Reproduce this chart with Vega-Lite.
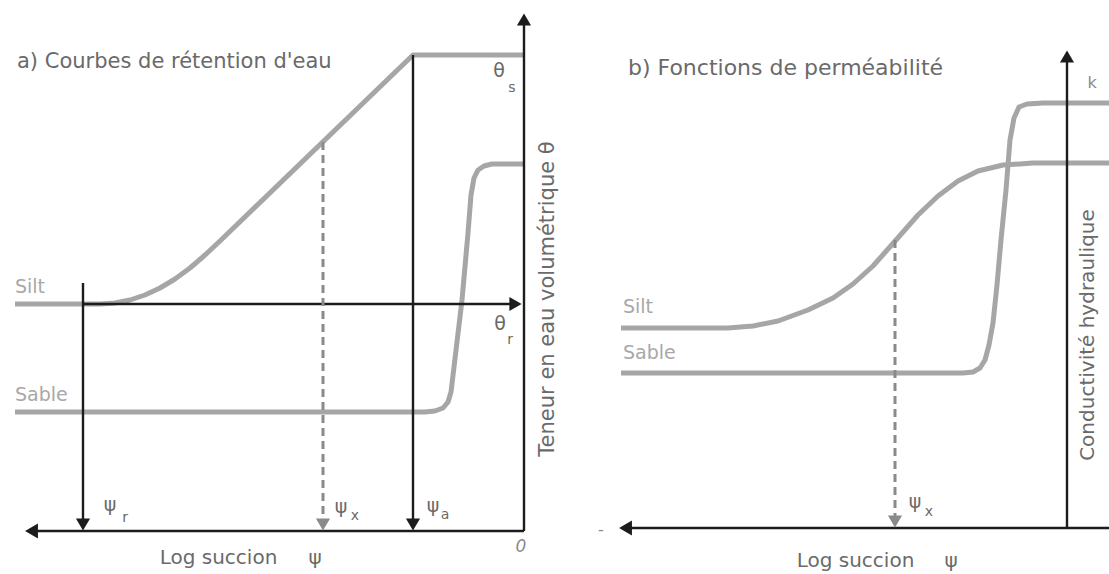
{
  "$schema": "https://vega.github.io/schema/vega-lite/v6.json",
  "padding": 0,
  "spacing": 20,
  "background": "white",
  "config": {"view": {"stroke": null}, "text": {"font": "DejaVu Sans", "color": "#6e6e6e"}},
  "datasets": {
    "aCurves": [
      {"soil": "Silt", "i": 0, "x": 10.18, "y": 4.54},
      {"soil": "Silt", "i": 1, "x": 8.48, "y": 4.54},
      {"soil": "Silt", "i": 2, "x": 8.18, "y": 4.56},
      {"soil": "Silt", "i": 3, "x": 7.88, "y": 4.62},
      {"soil": "Silt", "i": 4, "x": 7.58, "y": 4.72},
      {"soil": "Silt", "i": 5, "x": 7.28, "y": 4.86},
      {"soil": "Silt", "i": 6, "x": 6.98, "y": 5.04},
      {"soil": "Silt", "i": 7, "x": 6.68, "y": 5.26},
      {"soil": "Silt", "i": 8, "x": 6.38, "y": 5.52},
      {"soil": "Silt", "i": 9, "x": 6.08, "y": 5.8},
      {"soil": "Silt", "i": 10, "x": 2.22, "y": 9.52},
      {"soil": "Silt", "i": 11, "x": 0, "y": 9.52},
      {"soil": "Sable", "i": 0, "x": 10.18, "y": 2.38},
      {"soil": "Sable", "i": 1, "x": 1.98, "y": 2.38},
      {"soil": "Sable", "i": 2, "x": 1.78, "y": 2.4},
      {"soil": "Sable", "i": 3, "x": 1.62, "y": 2.46},
      {"soil": "Sable", "i": 4, "x": 1.52, "y": 2.58},
      {"soil": "Sable", "i": 5, "x": 1.46, "y": 2.78},
      {"soil": "Sable", "i": 6, "x": 1.4, "y": 3.28},
      {"soil": "Sable", "i": 7, "x": 1.24, "y": 4.62},
      {"soil": "Sable", "i": 8, "x": 1.12, "y": 5.96},
      {"soil": "Sable", "i": 9, "x": 1.06, "y": 6.72},
      {"soil": "Sable", "i": 10, "x": 1.0, "y": 7.06},
      {"soil": "Sable", "i": 11, "x": 0.92, "y": 7.22},
      {"soil": "Sable", "i": 12, "x": 0.8, "y": 7.3},
      {"soil": "Sable", "i": 13, "x": 0.64, "y": 7.34},
      {"soil": "Sable", "i": 14, "x": 0, "y": 7.34}
    ],
    "aRules": [
      {"x": 0, "y": 0, "x2": 9.85, "y2": 0},
      {"x": 0, "y": 0, "x2": 0, "y2": 10.2},
      {"x": 8.82, "y": 4.54, "x2": 0.17, "y2": 4.54},
      {"x": 8.82, "y": 4.96, "x2": 8.82, "y2": 0.13},
      {"x": 2.22, "y": 9.52, "x2": 2.22, "y2": 0.13}
    ],
    "aDashed": [{"x": 4.02, "y": 7.78, "x2": 4.02, "y2": 0.13}],
    "aDown": [{"x": 8.82, "y": 0.13}, {"x": 2.22, "y": 0.13}],
    "aDownGray": [{"x": 4.02, "y": 0.13}],
    "aLeft": [{"x": 9.85, "y": 0}],
    "aUp": [{"x": 0, "y": 10.23}],
    "aRight": [{"x": 0.17, "y": 4.54}],
    "aTitle": [{"t": "a) Courbes de rétention d'eau", "x": 10.14, "y": 9.38}],
    "aLight": [
      {"t": "Silt", "x": 10.18, "y": 4.88},
      {"t": "Sable", "x": 10.18, "y": 2.72}
    ],
    "aAxisLabel": [
      {"t": "Log succion", "x": 6.11, "y": -0.54},
      {"t": "ψ", "x": 4.18, "y": -0.54}
    ],
    "aZero": [{"t": "0", "x": 0.06, "y": -0.32}],
    "aGreek": [
      {"t": "θ", "x": 0.5, "y": 9.2},
      {"t": "θ", "x": 0.48, "y": 4.14},
      {"t": "ψ", "x": 8.28, "y": 0.52},
      {"t": "ψ", "x": 3.66, "y": 0.48},
      {"t": "ψ", "x": 1.82, "y": 0.5}
    ],
    "aSub": [
      {"t": "s", "x": 0.24, "y": 8.86},
      {"t": "r", "x": 0.28, "y": 3.82},
      {"t": "r", "x": 7.98, "y": 0.26},
      {"t": "x", "x": 3.38, "y": 0.3},
      {"t": "a", "x": 1.58, "y": 0.32}
    ],
    "aVert": [{"t": "Teneur en eau volumétrique θ", "x": -0.48, "y": 4.64}],
    "bCurves": [
      {"soil": "Silt", "i": 0, "x": 8.92, "y": 4.0},
      {"soil": "Silt", "i": 1, "x": 6.78, "y": 4.0},
      {"soil": "Silt", "i": 2, "x": 6.28, "y": 4.04},
      {"soil": "Silt", "i": 3, "x": 5.78, "y": 4.14},
      {"soil": "Silt", "i": 4, "x": 5.18, "y": 4.36},
      {"soil": "Silt", "i": 5, "x": 4.68, "y": 4.6},
      {"soil": "Silt", "i": 6, "x": 4.28, "y": 4.88},
      {"soil": "Silt", "i": 7, "x": 3.88, "y": 5.24},
      {"soil": "Silt", "i": 8, "x": 3.42, "y": 5.76},
      {"soil": "Silt", "i": 9, "x": 2.98, "y": 6.26},
      {"soil": "Silt", "i": 10, "x": 2.58, "y": 6.64},
      {"soil": "Silt", "i": 11, "x": 2.18, "y": 6.94},
      {"soil": "Silt", "i": 12, "x": 1.78, "y": 7.14},
      {"soil": "Silt", "i": 13, "x": 1.28, "y": 7.26},
      {"soil": "Silt", "i": 14, "x": 0.68, "y": 7.3},
      {"soil": "Silt", "i": 15, "x": -0.9, "y": 7.3},
      {"soil": "Sable", "i": 0, "x": 8.92, "y": 3.1},
      {"soil": "Sable", "i": 1, "x": 2.08, "y": 3.1},
      {"soil": "Sable", "i": 2, "x": 1.88, "y": 3.12},
      {"soil": "Sable", "i": 3, "x": 1.74, "y": 3.2},
      {"soil": "Sable", "i": 4, "x": 1.64, "y": 3.36},
      {"soil": "Sable", "i": 5, "x": 1.56, "y": 3.66},
      {"soil": "Sable", "i": 6, "x": 1.48, "y": 4.1},
      {"soil": "Sable", "i": 7, "x": 1.4, "y": 4.86},
      {"soil": "Sable", "i": 8, "x": 1.32, "y": 5.76},
      {"soil": "Sable", "i": 9, "x": 1.22, "y": 6.76},
      {"soil": "Sable", "i": 10, "x": 1.14, "y": 7.76},
      {"soil": "Sable", "i": 11, "x": 1.06, "y": 8.2},
      {"soil": "Sable", "i": 12, "x": 0.96, "y": 8.42},
      {"soil": "Sable", "i": 13, "x": 0.8, "y": 8.48},
      {"soil": "Sable", "i": 14, "x": 0.48, "y": 8.5},
      {"soil": "Sable", "i": 15, "x": -0.9, "y": 8.5}
    ],
    "bRules": [
      {"x": -0.9, "y": 0, "x2": 8.83, "y2": 0},
      {"x": 0, "y": 0, "x2": 0, "y2": 9.43}
    ],
    "bDashed": [{"x": 3.44, "y": 5.76, "x2": 3.44, "y2": 0.13}],
    "bDownGray": [{"x": 3.44, "y": 0.13}],
    "bLeft": [{"x": 8.83, "y": 0}],
    "bUp": [{"x": 0, "y": 9.43}],
    "bTitle": [{"t": "b) Fonctions de perméabilité", "x": 8.78, "y": 9.2}],
    "bK": [{"t": "k", "x": -0.5, "y": 8.9}],
    "bLight": [
      {"t": "Silt", "x": 8.88, "y": 4.42},
      {"t": "Sable", "x": 8.88, "y": 3.5}
    ],
    "bDash": [{"t": "-", "x": 9.32, "y": -0.04}],
    "bAxisLabel": [
      {"t": "Log succion", "x": 4.23, "y": -0.66},
      {"t": "ψ", "x": 2.32, "y": -0.66}
    ],
    "bGreek": [{"t": "ψ", "x": 3.04, "y": 0.52}],
    "bSub": [{"t": "x", "x": 2.76, "y": 0.32}],
    "bVert": [{"t": "Conductivité hydraulique", "x": -0.42, "y": 3.86}]
  },
  "hconcat": [
    {
      "width": 555,
      "height": 574,
      "encoding": {
        "x": {"field": "x", "type": "quantitative", "scale": {"domain": [-0.62, 10.48], "reverse": true, "nice": false, "zero": false}, "axis": null},
        "y": {"field": "y", "type": "quantitative", "scale": {"domain": [-0.86, 10.62], "nice": false, "zero": false}, "axis": null}
      },
      "layer": [
        {"data": {"name": "aCurves"}, "mark": {"type": "line", "color": "#a6a6a6", "strokeWidth": 5, "strokeCap": "butt", "strokeJoin": "round"},
         "encoding": {"detail": {"field": "soil"}, "order": {"field": "i", "type": "quantitative"}}},
        {"data": {"name": "aRules"}, "mark": {"type": "rule", "color": "#1c1c1c", "strokeWidth": 2.4},
         "encoding": {"x2": {"field": "x2"}, "y2": {"field": "y2"}}},
        {"data": {"name": "aDashed"}, "mark": {"type": "rule", "color": "#8a8a8a", "strokeWidth": 3, "strokeDash": [8, 5]},
         "encoding": {"x2": {"field": "x2"}, "y2": {"field": "y2"}}},
        {"data": {"name": "aDown"}, "mark": {"type": "point", "shape": "triangle-down", "filled": true, "color": "#1c1c1c", "size": 200, "opacity": 1}},
        {"data": {"name": "aDownGray"}, "mark": {"type": "point", "shape": "triangle-down", "filled": true, "color": "#8a8a8a", "size": 200, "opacity": 1}},
        {"data": {"name": "aLeft"}, "mark": {"type": "point", "shape": "triangle-left", "filled": true, "color": "#1c1c1c", "size": 220, "opacity": 1}},
        {"data": {"name": "aUp"}, "mark": {"type": "point", "shape": "triangle-up", "filled": true, "color": "#1c1c1c", "size": 200, "opacity": 1}},
        {"data": {"name": "aRight"}, "mark": {"type": "point", "shape": "triangle-right", "filled": true, "color": "#1c1c1c", "size": 200, "opacity": 1}},
        {"data": {"name": "aTitle"}, "mark": {"type": "text", "align": "left", "baseline": "middle", "fontSize": 21, "color": "#6a6a6a"}, "encoding": {"text": {"field": "t"}}},
        {"data": {"name": "aLight"}, "mark": {"type": "text", "align": "left", "baseline": "middle", "fontSize": 19, "color": "#a8a8a8"}, "encoding": {"text": {"field": "t"}}},
        {"data": {"name": "aAxisLabel"}, "mark": {"type": "text", "align": "center", "baseline": "middle", "fontSize": 20, "color": "#6a6a6a"}, "encoding": {"text": {"field": "t"}}},
        {"data": {"name": "aZero"}, "mark": {"type": "text", "align": "center", "baseline": "middle", "fontSize": 17, "fontStyle": "italic", "color": "#8a8a8a"}, "encoding": {"text": {"field": "t"}}},
        {"data": {"name": "aGreek"}, "mark": {"type": "text", "align": "center", "baseline": "middle", "fontSize": 19, "color": "#6a6a6a"}, "encoding": {"text": {"field": "t"}}},
        {"data": {"name": "aSub"}, "mark": {"type": "text", "align": "center", "baseline": "middle", "fontSize": 14, "color": "#6a6a6a"}, "encoding": {"text": {"field": "t"}}},
        {"data": {"name": "aVert"}, "mark": {"type": "text", "align": "center", "baseline": "middle", "angle": 270, "fontSize": 21, "color": "#6a6a6a"}, "encoding": {"text": {"field": "t"}}}
      ]
    },
    {
      "width": 534,
      "height": 574,
      "encoding": {
        "x": {"field": "x", "type": "quantitative", "scale": {"domain": [-0.9, 9.78], "reverse": true, "nice": false, "zero": false}, "axis": null},
        "y": {"field": "y", "type": "quantitative", "scale": {"domain": [-0.92, 10.56], "nice": false, "zero": false}, "axis": null}
      },
      "layer": [
        {"data": {"name": "bCurves"}, "mark": {"type": "line", "color": "#a6a6a6", "strokeWidth": 5, "strokeCap": "butt", "strokeJoin": "round"},
         "encoding": {"detail": {"field": "soil"}, "order": {"field": "i", "type": "quantitative"}}},
        {"data": {"name": "bRules"}, "mark": {"type": "rule", "color": "#1c1c1c", "strokeWidth": 2.4},
         "encoding": {"x2": {"field": "x2"}, "y2": {"field": "y2"}}},
        {"data": {"name": "bDashed"}, "mark": {"type": "rule", "color": "#8a8a8a", "strokeWidth": 3, "strokeDash": [8, 5]},
         "encoding": {"x2": {"field": "x2"}, "y2": {"field": "y2"}}},
        {"data": {"name": "bDownGray"}, "mark": {"type": "point", "shape": "triangle-down", "filled": true, "color": "#8a8a8a", "size": 200, "opacity": 1}},
        {"data": {"name": "bLeft"}, "mark": {"type": "point", "shape": "triangle-left", "filled": true, "color": "#1c1c1c", "size": 220, "opacity": 1}},
        {"data": {"name": "bUp"}, "mark": {"type": "point", "shape": "triangle-up", "filled": true, "color": "#1c1c1c", "size": 200, "opacity": 1}},
        {"data": {"name": "bTitle"}, "mark": {"type": "text", "align": "left", "baseline": "middle", "fontSize": 22, "color": "#6a6a6a"}, "encoding": {"text": {"field": "t"}}},
        {"data": {"name": "bK"}, "mark": {"type": "text", "align": "center", "baseline": "middle", "fontSize": 16, "color": "#8a8a8a"}, "encoding": {"text": {"field": "t"}}},
        {"data": {"name": "bLight"}, "mark": {"type": "text", "align": "left", "baseline": "middle", "fontSize": 19, "color": "#a8a8a8"}, "encoding": {"text": {"field": "t"}}},
        {"data": {"name": "bDash"}, "mark": {"type": "text", "align": "center", "baseline": "middle", "fontSize": 16, "color": "#8a8a8a"}, "encoding": {"text": {"field": "t"}}},
        {"data": {"name": "bAxisLabel"}, "mark": {"type": "text", "align": "center", "baseline": "middle", "fontSize": 20, "color": "#6a6a6a"}, "encoding": {"text": {"field": "t"}}},
        {"data": {"name": "bGreek"}, "mark": {"type": "text", "align": "center", "baseline": "middle", "fontSize": 19, "color": "#6a6a6a"}, "encoding": {"text": {"field": "t"}}},
        {"data": {"name": "bSub"}, "mark": {"type": "text", "align": "center", "baseline": "middle", "fontSize": 14, "color": "#6a6a6a"}, "encoding": {"text": {"field": "t"}}},
        {"data": {"name": "bVert"}, "mark": {"type": "text", "align": "center", "baseline": "middle", "angle": 270, "fontSize": 20, "color": "#6a6a6a"}, "encoding": {"text": {"field": "t"}}}
      ]
    }
  ]
}
